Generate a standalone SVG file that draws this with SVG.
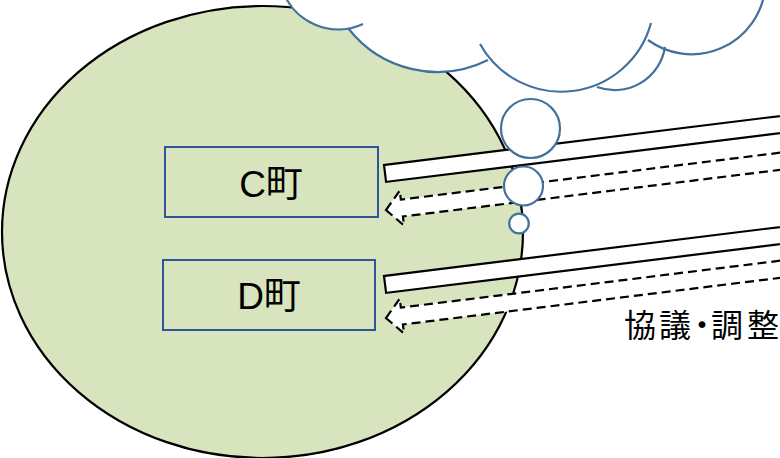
<svg xmlns="http://www.w3.org/2000/svg" width="780" height="458" viewBox="0 0 780 458">
  <style>
    .area { fill: #D7E4BD; stroke: #000; stroke-width: 2.2; }
    .box { fill: none; stroke: #2F5597; stroke-width: 2; }
    .lbl { font-family: "Liberation Sans", "Noto Sans CJK JP", sans-serif; font-size: 37px; fill: #000; text-anchor: middle; }
    .cap { font-family: "Noto Sans CJK JP", sans-serif; font-size: 32px; fill: #000; }
    .bar { fill: #fff; stroke: #000; stroke-width: 2.2; }
    .dash { fill: #fff; stroke: #000; stroke-width: 2.2; stroke-dasharray: 9 5; }
    .cloud { fill: none; stroke: #41719C; stroke-width: 2.2; }
    .bubble { fill: #fff; stroke: #41719C; stroke-width: 2.2; }
  </style>
  <defs>
    <path id="arrowL" d="M0,0 L16,-17.5 L16,-8.5 L420,-8.5 L420,8.5 L16,8.5 L16,17.5 Z"/>
  </defs>

  <g id="region">
    <ellipse class="area" cx="262.5" cy="232" rx="260.5" ry="226"/>
  </g>

  <g id="cloud">
    <path fill="#fff" stroke="none" d="M282,-10 L287,0 A59 59 0 0 0 348,28 A113 113 0 0 0 488,60 A93 93 0 0 0 597,87 A51 51 0 0 0 665,47 A74 74 0 0 0 765,-10 Z"/>
    <path class="cloud" d="M282.5,-10 A59 59 0 0 0 363,24"/>
    <path class="cloud" d="M348,28 A113 113 0 0 0 488,60"/>
    <path class="cloud" d="M480,44 A93 93 0 0 0 651,23"/>
    <path class="cloud" d="M597,87 A51 51 0 0 0 665,47"/>
    <path class="cloud" d="M648,40 A74 74 0 0 0 765,-10"/>
  </g>

  <g id="townC">
    <rect class="box" x="165" y="147" width="213" height="70"/>
    <text class="lbl" x="271" y="197">C町</text>
  </g>

  <g id="townD">
    <rect class="box" x="163" y="260" width="212" height="70"/>
    <text class="lbl" x="269" y="309">D町</text>
  </g>

  <g id="connectors">
    <rect class="bar" x="0" y="0" width="420" height="17" transform="translate(384,165) rotate(-7.05)"/>
    <use href="#arrowL" class="dash" transform="translate(386,210) rotate(-7.05)"/>
    <rect class="bar" x="0" y="0" width="420" height="17" transform="translate(384,276) rotate(-7.05)"/>
    <use href="#arrowL" class="dash" transform="translate(386,318) rotate(-7.05)"/>
  </g>

  <g id="thought">
    <circle class="bubble" cx="530.5" cy="128.5" r="29.5"/>
    <circle class="bubble" cx="523.5" cy="186" r="19.5"/>
    <circle class="bubble" cx="519" cy="223.5" r="9.8"/>
  </g>

  <g id="caption">
    <text class="cap" x="624 659 686 711 747" y="337">協議・調整</text>
  </g>
</svg>
